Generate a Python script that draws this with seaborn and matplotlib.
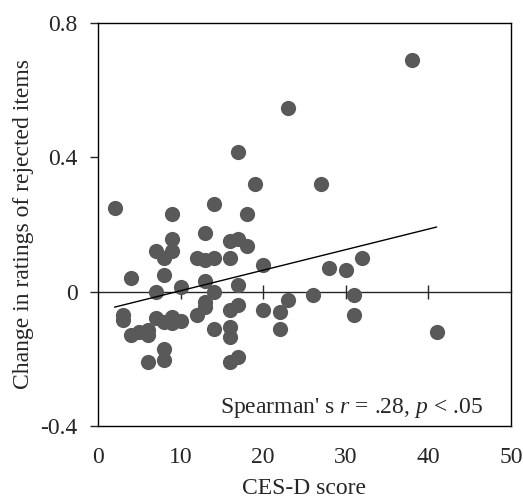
import numpy as np
import pandas as pd
import matplotlib
matplotlib.use("Agg")
import matplotlib.pyplot as plt
import seaborn as sns

# CES-D score vs change in rating of rejected items
ces_d = [2, 3, 3, 4, 4, 5, 6, 6, 6, 7, 7, 7, 8, 8, 8, 8, 8,
         9, 9, 9, 9, 9, 10, 10, 12, 12, 13, 13, 13, 13, 13,
         14, 14, 14, 14, 16, 16, 16, 16, 16, 16, 17, 17, 17, 17, 17,
         18, 18, 19, 20, 20, 22, 22, 23, 23, 26, 27, 28, 30, 31, 31, 32, 38, 41]
rating_change = [0.25, -0.07, -0.085, 0.04, -0.13, -0.12, -0.115, -0.13, -0.21,
                 0.12, 0.0, -0.08, 0.10, 0.05, -0.09, -0.17, -0.205,
                 0.23, 0.155, 0.12, -0.075, -0.095, 0.015, -0.087, 0.10, -0.07,
                 0.175, 0.095, 0.03, -0.03, -0.045,
                 0.26, 0.10, 0.0, -0.11,
                 0.15, 0.10, -0.055, -0.105, -0.135, -0.21,
                 0.415, 0.155, 0.02, -0.04, -0.195,
                 0.23, 0.135, 0.32, 0.08, -0.055, -0.06, -0.11, 0.545, -0.025,
                 -0.01, 0.32, 0.07, 0.065, -0.01, -0.07, 0.10, 0.69, -0.12]

x_ticks = [0, 10, 20, 30, 40, 50]
y_ticks = [-0.4, 0, 0.4, 0.8]
y_ticklabels = ["-0.4", "0", "0.4", "0.8"]

df = pd.DataFrame({"CES-D score": ces_d, "change": rating_change})

sns.set_style("white")
plt.rcParams["font.family"] = ["Liberation Serif", "DejaVu Serif"]
plt.rcParams["mathtext.fontset"] = "custom"
plt.rcParams["mathtext.rm"] = "Liberation Serif"
plt.rcParams["mathtext.it"] = "Liberation Serif:italic"

fig, ax = plt.subplots(figsize=(5.23, 4.99), dpi=100)
fig.subplots_adjust(left=0.1874, right=0.977, top=0.9545, bottom=0.1463)

sns.scatterplot(data=df, x="CES-D score", y="change", ax=ax,
                color="#595959", s=120, linewidth=0, alpha=1, zorder=3)
sns.regplot(data=df, x="CES-D score", y="change", ax=ax, scatter=False,
            ci=None, truncate=True, line_kws={"color": "black", "lw": 1.0, "zorder": 4})

ax.set_xlim(0, 50)
ax.set_ylim(-0.4, 0.8)

# box
for s in ax.spines.values():
    s.set_visible(True)
    s.set_color("black")
    s.set_linewidth(1.0)

ax.set_xticks(x_ticks)
ax.set_yticks(y_ticks)
ax.set_yticklabels(y_ticklabels)
ax.tick_params(axis="x", length=0, pad=15, labelsize=17)
ax.tick_params(axis="y", direction="out", length=5.5, width=1.0, pad=9,
               labelsize=17, left=True)

# horizontal axis crossing at zero with tick marks
zero_ax = ax.secondary_xaxis((0 - (-0.4)) / 1.2)
zero_ax.set_xticks(x_ticks[1:-1])
zero_ax.tick_params(direction="inout", length=9.5, width=1.0, labelbottom=False,
                    labeltop=False)
zero_ax.spines["bottom"].set_linewidth(1.0)
zero_ax.spines["top"].set_visible(False)

ax.set_xlabel("CES-D score", fontsize=17, labelpad=7)
ax.set_ylabel("Change in ratings of rejected items", fontsize=17, labelpad=5)

ax.text(0.932, 0.045, r"Spearman' s $\mathit{r}$ = .28, $\mathit{p}$ < .05",
        transform=ax.transAxes, ha="right", va="center", fontsize=17)

fig.savefig("out.png", dpi=100)
